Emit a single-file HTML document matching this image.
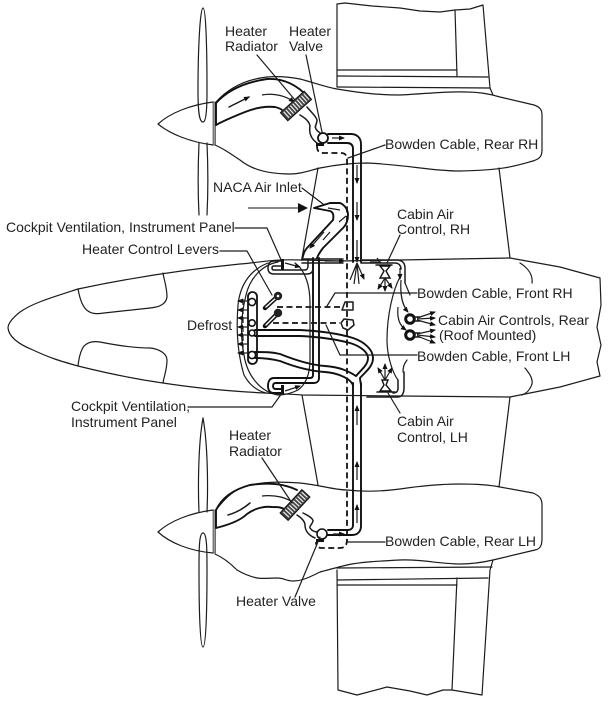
<!DOCTYPE html>
<html><head><meta charset="utf-8"><style>
html,body{margin:0;padding:0;background:#fff}
svg{display:block;filter:blur(.3px)}
text{font-family:"Liberation Sans",sans-serif;font-size:14px;fill:#222}
.l{fill:none;stroke:#1c1c1c;stroke-width:1.2;stroke-linejoin:round;stroke-linecap:round}
.t{fill:none;stroke:#111;stroke-width:1.9;stroke-linejoin:round;stroke-linecap:round}
.m{fill:none;stroke:#1a1a1a;stroke-width:1.5;stroke-linejoin:round;stroke-linecap:round}
.d{fill:none;stroke:#111;stroke-width:1.8;stroke-dasharray:6 3.5}
.a{fill:none;stroke:#1c1c1c;stroke-width:1.2}
.w{fill:#fff}
</style></head><body>
<svg width="610" height="701" viewBox="0 0 610 701" xmlns="http://www.w3.org/2000/svg">
<defs>
<marker id="h" markerWidth="6" markerHeight="6" refX="5" refY="3" orient="auto" markerUnits="userSpaceOnUse"><path d="M0 0.5L6 3L0 5.5z" fill="#111"/></marker>
</defs>

<!-- Fuselage -->
<path class="l" d="M302 260C270 259 265 262 240 264C180 270 130 278 78 289C50 298 33 303 20 312C10 320 8 325 8 328C9 337 18 344 33 350C50 358 60 361 78 366C110 374 135 379 163 383C195 388 225 391 265 393C280 394 290 394 302 395L400 396L510 397L560 387L600 376L597 362L601 345L597 327L601 305L600 278L560 267L510 258L400 260L340 261L302 260"/>
<path class="l" d="M78 289C80 300 83 308 88 311C92 314 97 314 104 313L150 308C160 307 166 304 167 297C167 287 164 280 163 273"/>
<path class="l" d="M78 366C79 357 81 350 84 346C88 342 94 341 100 342C115 345 135 348 150 348C160 349 167 354 167 360C167 370 164 376 163 383"/>
<path class="l" d="M520 263C528 268 533 275 532 283M525 368C529 373 533 378 532 384C530 390 527 393 522 395"/>
<!-- Cabin frames -->
<path class="l" d="M268 263C250 270 240 285 238 305C236 330 238 355 244 375C250 386 258 391 266 393"/>
<path class="l" d="M278 262C262 265 250 278 246 295C241 315 240 335 244 355C247 375 260 392 278 395"/>
<path class="l" d="M295 263C305 270 310 285 310 303V360C310 375 305 385 298 390C290 394 282 395 278 395"/>
<path class="l" d="M400 277C393 290 387 315 387 340C387 355 392 372 398 380"/>
<path class="l" d="M407 360C404 364 403 367 403 372"/>
<!-- Wing edges -->
<path class="l" d="M318 168L302 258M302 395L318 485M499 168L510 258M510 397L499 487"/>
<!-- Wing top -->
<path class="l" d="M337 87V4L345 3L372 6L400 8L420 11L440 12L455 10L470 9L483 5L490 88L493 95"/>
<path class="l" d="M455 10L457 76M337 70L457 70M337 76L488 77M337 87L490 88"/>
<!-- Wing bottom -->
<path class="l" d="M337 570L338 690L357 695L387 687L410 691L427 695L443 690L452 690L482 695L490 570L493 560"/>
<path class="l" d="M452 690L457 578M337 568L492 567M337 580L488 578M337 585L457 585"/>

<!-- Upper nacelle -->
<path class="l" d="M216 102C225 92 240 80 267 77C280 76 290 77 300 79C312 82 325 87 337 89C355 92 375 95 400 95C425 94 445 91 467 92C480 92 490 94 500 97L534 105C540 107 542 110 542 115V150C542 157 539 159 533 161C515 166 505 170 460 171C430 171 410 165 367 163C350 163 335 165 320 168C308 171 300 174 290 174C270 174 252 170 240 160C228 152 222 148 215 145"/>
<path class="l" d="M158 124C170 113 190 105 213 102M158 124C170 134 190 142 213 145"/>
<path d="M213 102h2.500v43h-2.500z" fill="#999" stroke="#333" stroke-width=".6"/>
<path class="l" d="M203 8C200 8 198 50 198 90C198 110 199 122 203 122C206 122 207 110 207 90C207 50 206 8 203 8zM199 143C198 165 198 195 199 215M207 143C208 165 208 195 207 215"/>

<!-- Lower nacelle -->
<path class="l" d="M216 510C225 498 235 488 250 485C270 481 285 482 300 483C320 485 335 490 347 490C365 492 385 491 400 489C420 486 440 484 460 484C475 484 490 485 500 487L533 493C540 496 542 499 542 505V538C542 546 540 549 535 550L493 560C480 563 470 564 460 564C440 564 420 559 400 560C380 561 360 562 347 565C335 568 327 570 320 572C310 577 302 581 293 581C287 581 283 578 278 578C270 578 262 579 257 578C248 576 242 573 237 570C230 563 222 557 215 554"/>
<path class="l" d="M158 532C170 521 190 513 213 510M158 532C170 543 190 551 213 553"/>
<path d="M213 510h2.500v43h-2.500z" fill="#999" stroke="#333" stroke-width=".6"/>
<path class="l" d="M199 512C198 490 198 445 203 418C208 445 208 490 207 512M203 533C199 533 199 550 199 570C199 610 200 647 203 647C206 647 207 610 207 570C207 550 207 533 203 533z"/>

<!-- Upper radiator duct -->
<path class="t" d="M216 125V103C225 93 240 83 267 79C285 78 298 86 308 97"/>
<path class="t" d="M216 125C225 120 235 116 245 112C255 108 265 106 275 107C280 108 283 110 285 113"/>
<path class="m" d="M229 107L249 97" marker-end="url(#h)"/>
<path class="a" d="M262 95C272 93 285 95 294 102" marker-end="url(#h)"/>
<g transform="translate(296 106) rotate(-42)">
<rect x="-16" y="-5.500" width="32" height="11" fill="#444" stroke="#111" stroke-width="1"/>
<path d="M-13-4V4M-10-4V4M-7-4V4M-4-4V4M-1-4V4M2-4V4M5-4V4M8-4V4M11-4V4M14-4V4" stroke="#eee" stroke-width="1.2"/>
</g>
<path class="m" d="M300 115C305 118 309 121 310 126C309 132 310 138 317 143"/>
<path class="m" d="M307 107C311 112 316 116 317 120C317 125 314 126 316 129C317 131 319 132 320 133"/>
<circle cx="323" cy="138" r="5" fill="#fff" stroke="#111" stroke-width="1.8"/>
<path d="M316 143h8v3h-8z" fill="#111"/>
<path class="t" d="M328 134H351C357 134 361 138 361 144V262M328 143H347C351 143 353 145 353 149V262"/>
<path class="d" d="M317 146C317 151 319 153 323 153H341C345 153 347 155 347 160V540C347 546 344 548 340 548H322C318 548 316 546 316 542"/>
<path class="a" d="M332 138H344" marker-end="url(#h)"/>
<path class="a" d="M357 165V183" marker-end="url(#h)"/>
<path class="a" d="M357 202V220" marker-end="url(#h)"/>
<path class="a" d="M357 240V262" marker-end="url(#h)"/>
<path class="a" d="M357 263L350 280M357 263L354 284M357 263L359 284M357 263L364 279" marker-end="url(#h)"/>

<!-- Lower radiator duct -->
<path class="t" d="M216 528V510C222 498 232 490 250 485C270 482 285 484 297 490"/>
<path class="t" d="M216 528C228 525 240 521 247 514C255 508 265 506 272 507C277 507 281 507 284 509"/>
<path class="m" d="M228 515C235 513 243 509 250 503"/>
<path class="a" d="M262 496C272 495 282 496 291 501"/>
<g transform="translate(295 505) rotate(-47)">
<rect x="-16" y="-5.500" width="32" height="11" fill="#444" stroke="#111" stroke-width="1"/>
<path d="M-13-4V4M-10-4V4M-7-4V4M-4-4V4M-1-4V4M2-4V4M5-4V4M8-4V4M11-4V4M14-4V4" stroke="#eee" stroke-width="1.2"/>
</g>
<path class="m" d="M297 515C302 518 305 522 305 525C305 530 308 535 315 538"/>
<path class="m" d="M303 513C307 515 313 518 313 521C312 525 309 526 310 528C312 531 315 532 318 532"/>
<circle cx="322" cy="534" r="5" fill="#fff" stroke="#111" stroke-width="1.6"/>
<path d="M316 539h8v3h-8z" fill="#111"/>
<path class="t" d="M328 530H348C351 530 353 528 353 525V383M328 535H352C358 535 361 531 361 526V383"/>
<path class="a" d="M333 534H344" marker-end="url(#h)"/>
<path class="a" d="M357 425V406" marker-end="url(#h)"/>
<path class="a" d="M357 480V462" marker-end="url(#h)"/>
<path class="a" d="M357 523V505" marker-end="url(#h)"/>

<!-- NACA inlet -->
<path class="t" d="M302 260C303 255 304 251 307 248L333 220C334 215 333 212 330 211L314 208L330 203H340C345 205 348 210 348 215C348 221 346 225 343 228L323 248C320 252 318 255 317 258"/>
<path class="a" d="M339 222L346 216M330 232L323 240"/>
<path class="a" d="M324 232L310 248" marker-end="url(#h)"/>
<path class="a" d="M328 208L340 210"/>

<!-- Supply pipes through cabin -->
<path class="t" d="M313 258V375C313 377 312 378 310 378H274C270 378 268 381 268 386C268 390 270 393 274 393H282"/>
<path class="t" d="M319 258V378C319 381 317 383 314 383H276C274 383 273 384 273 386C273 388 274 389 276 389H282"/>
<!-- upper vent -->
<path class="m" d="M282 261H274C270 261 268 264 268 268C268 272 270 274 274 274H307C311 274 313 272 313 268"/>
<path class="m" d="M282 266H274C272.500 266 272 267 272 268C272 269 272.500 270 274 270H305C307 270 308 268 308 266V259"/>
<rect x="281" y="259" width="3" height="11" fill="#111"/>
<rect x="281" y="385" width="3" height="9" fill="#111"/>
<path class="a" d="M285 263L300 267" marker-end="url(#h)"/>
<path class="a" d="M285 391L300 386" marker-end="url(#h)"/>
<!-- top lines -->
<path class="m" d="M302 259H343M302 263H343"/>
<path class="a" d="M325 261H344" marker-end="url(#h)"/>
<path class="m" d="M361 260H397C402 260 405 263 405 268V283"/>
<path class="m" d="M361 263H395C399 263 401 266 401 269"/>
<path class="a" d="M400 268V279" marker-end="url(#h)"/>

<!-- Levers -->
<path d="M278 296L265 308" stroke="#111" stroke-width="4.500" stroke-linecap="round" fill="none"/>
<path d="M276 298L266 307" stroke="#fff" stroke-width="1.500" stroke-linecap="round" fill="none"/>
<circle cx="278" cy="296" r="4.200" fill="#222"/><circle cx="278" cy="296" r="1.300" fill="#fff"/>
<path d="M278 313L265 326" stroke="#111" stroke-width="4.500" stroke-linecap="round" fill="none"/>
<path d="M276 315L266 325" stroke="#fff" stroke-width="1.500" stroke-linecap="round" fill="none"/>
<circle cx="278" cy="313" r="4.200" fill="#222"/>
<path class="d" d="M277 307H342M273 323H340"/>
<path class="m" d="M342 310L345 302H353V310H342z"/>
<path class="m" d="M341 323L344 319L353 320L354 325L348 330L343 328z"/>

<!-- Manifold -->
<rect x="248" y="292" width="9" height="72" rx="4.500" class="w" stroke="#111" stroke-width="1.800"/>
<g fill="#fff" stroke="#111" stroke-width="1.600">
<circle cx="252" cy="302" r="3.600"/><circle cx="252" cy="323" r="3.200"/><circle cx="252" cy="333" r="3"/><circle cx="252" cy="355" r="3.600"/>
</g>
<path class="a" d="M248 301H238" marker-end="url(#h)"/><path class="a" d="M248 310H238" marker-end="url(#h)"/>
<path class="a" d="M248 318H238" marker-end="url(#h)"/><path class="a" d="M248 327H238" marker-end="url(#h)"/>
<path class="a" d="M248 335H238" marker-end="url(#h)"/><path class="a" d="M248 344H238" marker-end="url(#h)"/>
<path class="a" d="M248 353H238" marker-end="url(#h)"/>
<path class="a" d="M243 299V355" stroke-dasharray="6 3"/>
<!-- Hoses -->
<path class="t" d="M255 330H300C320 331 340 334 353 338C365 342 373 350 373 358C373 367 365 372 360 378C360 381 361 383 361 386"/>
<path class="t" d="M255 336H300C320 337 335 339 350 343C360 346 368 352 368 358C368 365 361 370 356 376"/>
<path class="t" d="M255 352C265 352 272 352 280 354C295 360 310 365 325 366C340 367 348 371 356 376"/>
<path class="t" d="M255 358C265 358 272 359 280 361C295 367 310 371 325 372C338 373 347 378 350 381C352 383 353 384 353 386"/>

<!-- Cabin controls RH -->
<path class="m" d="M376 265H392"/>
<path d="M380 266H390L386 271L390 278H380L384 271z" fill="#fff" stroke="#111" stroke-width="1.400"/>
<path class="a" d="M385 278L378 289" marker-end="url(#h)"/><path class="a" d="M385 278V291" marker-end="url(#h)"/><path class="a" d="M385 278L392 288" marker-end="url(#h)"/>
<path class="a" d="M370 262H380M377 258L381 263"/>
<!-- Cabin controls LH -->
<path class="m" d="M377 392H395"/>
<path d="M380 391L384 385L382 380H388L386 385L391 391z" fill="#fff" stroke="#111" stroke-width="1.400"/>
<path class="a" d="M385 380L378 368" marker-end="url(#h)"/><path class="a" d="M385 380V364" marker-end="url(#h)"/><path class="a" d="M385 380L392 368" marker-end="url(#h)"/>
<path class="m" d="M367 397H398C402 397 404 393 404 388V372"/>
<path class="m" d="M398 380V388C398 392 396 393 393 393"/>

<!-- Roof controls -->
<path class="a" d="M401 280C400 295 402 305 408 312" marker-end="url(#h)"/>
<path class="a" d="M398 307C397 318 399 325 406 330" marker-end="url(#h)"/>
<circle cx="410" cy="319" r="4.300" fill="#fff" stroke="#111" stroke-width="3"/>
<circle cx="410" cy="335" r="4.300" fill="#fff" stroke="#111" stroke-width="3"/>
<path class="m" d="M415 317H420M415 321H420M415 333H420M415 337H420"/>
<path class="a" d="M417 318L435 312" marker-end="url(#h)"/><path class="a" d="M417 319L435 318" marker-end="url(#h)"/><path class="a" d="M417 320L435 325" marker-end="url(#h)"/>
<path class="a" d="M417 334L435 330" marker-end="url(#h)"/><path class="a" d="M417 335L435 337" marker-end="url(#h)"/><path class="a" d="M417 336L435 343" marker-end="url(#h)"/>

<!-- Leaders -->
<path class="l" d="M257 55L295 100M306 55L322 132M385 145L348 158M302 188L323 204"/>
<path class="l" d="M235 228H267L282 262M220 251H247L272 295"/>
<path class="l" d="M400 235L387 263M400 413L388 393"/>
<path class="l" d="M417 293H335L327 306M417 355H340L326 325"/>
<path class="l" d="M410 295L405 283"/>
<path class="l" d="M188 407H272L282 393"/>
<path class="l" d="M262 458L292 503M295 597L320 537M385 542H348"/>
<path d="M248 208H298" stroke="#111" stroke-width="1.100"/>
<path d="M298 203L308 208L298 213z" fill="#111"/>

<!-- Labels -->
<text x="225" y="36">Heater</text><text x="225" y="51">Radiator</text>
<text x="289" y="36">Heater</text><text x="289" y="51">Valve</text>
<text x="385" y="149">Bowden Cable, Rear RH</text>
<text x="213" y="192">NACA Air Inlet</text>
<text x="6" y="232">Cockpit Ventilation, Instrument Panel</text>
<text x="82" y="254">Heater Control Levers</text>
<text x="187" y="330">Defrost</text>
<text x="71" y="411">Cockpit Ventilation,</text><text x="71" y="427">Instrument Panel</text>
<text x="397" y="219">Cabin Air</text><text x="397" y="234">Control, RH</text>
<text x="417" y="298">Bowden Cable, Front RH</text>
<text x="438" y="325">Cabin Air Controls, Rear</text>
<text x="439" y="340">(Roof Mounted)</text>
<text x="417" y="361">Bowden Cable, Front LH</text>
<text x="397" y="426">Cabin Air</text><text x="397" y="442">Control, LH</text>
<text x="229" y="440">Heater</text><text x="229" y="456">Radiator</text>
<text x="236" y="606">Heater Valve</text>
<text x="385" y="546">Bowden Cable, Rear LH</text>
</svg>
</body></html>
